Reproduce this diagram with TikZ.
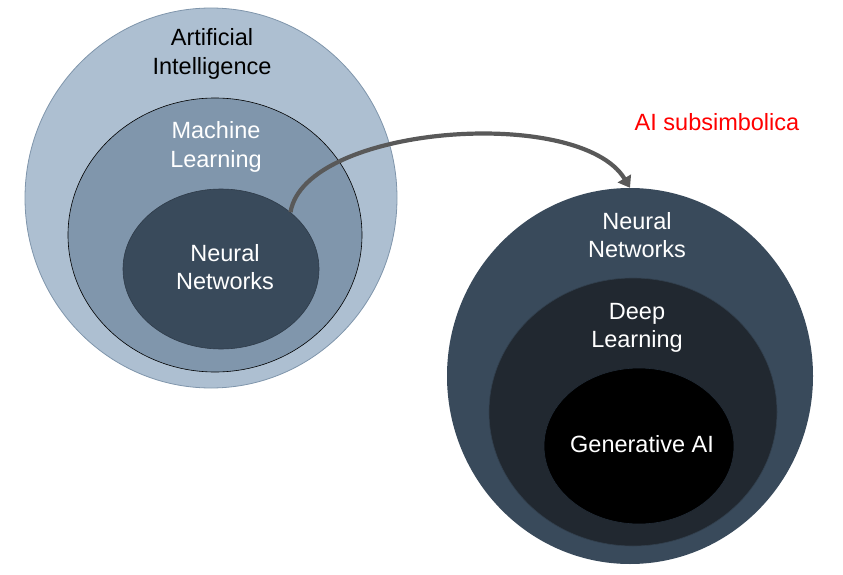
\documentclass[tikz,border=0pt]{standalone}
\usepackage{fontspec}
\setmainfont{Liberation Sans}
\usetikzlibrary{shapes.geometric,arrows.meta}
\definecolor{aicol}{HTML}{ADBFD1}
\definecolor{aiedge}{HTML}{7F95AB}
\definecolor{mlcol}{HTML}{8096AC}
\definecolor{nncol}{HTML}{394A5B}
\definecolor{dlcol}{HTML}{212830}
\definecolor{gencol}{HTML}{000000}
\definecolor{arrcol}{HTML}{595959}
\definecolor{redcol}{HTML}{FF0000}
\tikzset{
  blob/.style={ellipse, inner sep=0pt},
  lbl/.style={align=center, font=\fontsize{23.5}{28.5}\selectfont, inner sep=0pt},
  wlbl/.style={lbl, text=white},
}
\begin{document}
\begin{tikzpicture}[x=1pt,y=-1pt]
\useasboundingbox (0,0) rectangle (843,575);
% left group
\node[blob, fill=aicol, draw=aiedge, line width=0.8pt, minimum width=372pt, minimum height=380pt] (ai) at (211,198) {};
\node[blob, fill=mlcol, draw=black, line width=0.6pt, minimum width=294pt, minimum height=274pt] (ml) at (215,235) {};
\node[blob, fill=nncol, draw=nncol!80!black, line width=0.6pt, minimum width=196pt, minimum height=160pt] (nnL) at (221,269) {};
% right group
\node[blob, fill=nncol, minimum width=366pt, minimum height=376pt] (nnR) at (630,376) {};
\node[blob, fill=dlcol, draw=nncol!70!dlcol, line width=0.6pt, minimum width=288pt, minimum height=268pt] (dl) at (633,412) {};
\node[blob, fill=gencol, draw=nncol!60!black, line width=0.6pt, minimum width=190pt, minimum height=156pt] (gen) at (639,446) {};
% labels
\node[lbl] (tai) at (212,54) {Artificial\\Intelligence};
\node[wlbl] (tml) at (216,147) {Machine\\Learning};
\node[wlbl] (tnnL) at (225,267) {Neural\\Networks};
\node[wlbl] (tnnR) at (637,235) {Neural\\Networks};
\node[wlbl] (tdl) at (637,328) {Deep\\Learning};
\node[wlbl] (tgen) at (642,444) {Generative AI};
\node[lbl, text=redcol] (tsub) at (717,122) {AI subsimbolica};
% arrow
\draw[arrcol, line width=4.2pt, -{Triangle[length=11pt,width=15pt]}]
  (nnL.north east) .. controls (305,125) and (580,105) .. (nnR.north);
\end{tikzpicture}
\end{document}
